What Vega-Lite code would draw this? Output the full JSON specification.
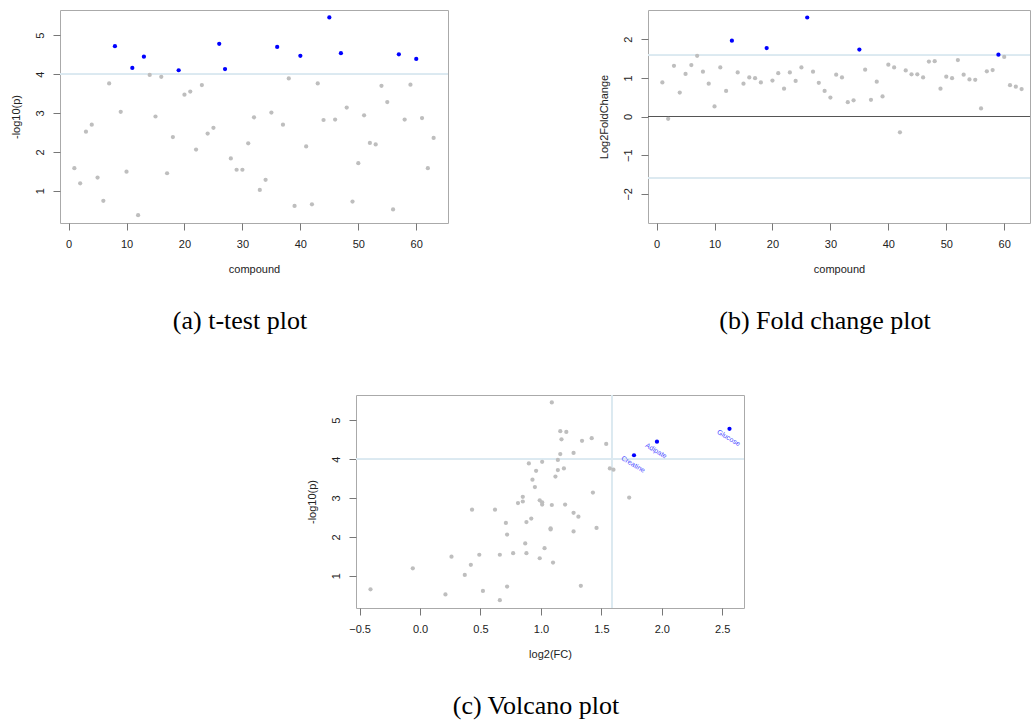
{
  "$schema": "https://vega.github.io/schema/vega-lite/v6.json",
  "padding": {"left": 9, "top": 9, "right": 0, "bottom": 0},
  "background": "white",
  "data": {"values": [
    {"compound":1,"logp":1.58,"fc":0.88},{"compound":2,"logp":1.19,"fc":-0.06},{"compound":3,"logp":2.52,"fc":1.31},
    {"compound":4,"logp":2.70,"fc":0.62},{"compound":5,"logp":1.34,"fc":1.10},{"compound":6,"logp":0.74,"fc":1.33},
    {"compound":7,"logp":3.76,"fc":1.57},{"compound":8,"logp":4.72,"fc":1.16},{"compound":9,"logp":3.03,"fc":0.85},
    {"compound":10,"logp":1.49,"fc":0.26},{"compound":11,"logp":4.16,"fc":1.27},{"compound":12,"logp":0.37,"fc":0.66},
    {"compound":13,"logp":4.45,"fc":1.96,"name":"Adipate"},{"compound":14,"logp":3.98,"fc":1.14},{"compound":15,"logp":2.91,"fc":0.85},
    {"compound":16,"logp":3.93,"fc":1.01},{"compound":17,"logp":1.45,"fc":0.99},{"compound":18,"logp":2.38,"fc":0.88},
    {"compound":19,"logp":4.10,"fc":1.77,"name":"Creatine"},{"compound":20,"logp":3.47,"fc":0.93},{"compound":21,"logp":3.55,"fc":1.12},
    {"compound":22,"logp":2.06,"fc":0.72},{"compound":23,"logp":3.72,"fc":1.14},{"compound":24,"logp":2.47,"fc":0.92},
    {"compound":25,"logp":2.62,"fc":1.27},{"compound":26,"logp":4.78,"fc":2.56,"name":"Glucose"},{"compound":27,"logp":4.13,"fc":1.16},
    {"compound":28,"logp":1.83,"fc":0.87},{"compound":29,"logp":1.54,"fc":0.66},{"compound":30,"logp":1.54,"fc":0.49},
    {"compound":31,"logp":2.22,"fc":1.08},{"compound":32,"logp":2.89,"fc":1.01},{"compound":33,"logp":1.02,"fc":0.37},
    {"compound":34,"logp":1.28,"fc":0.42},{"compound":35,"logp":3.01,"fc":1.73},{"compound":36,"logp":4.70,"fc":1.21},
    {"compound":37,"logp":2.70,"fc":0.43},{"compound":38,"logp":3.89,"fc":0.90},{"compound":39,"logp":0.61,"fc":0.52},
    {"compound":40,"logp":4.47,"fc":1.34},{"compound":41,"logp":2.14,"fc":1.27},{"compound":42,"logp":0.65,"fc":-0.41},
    {"compound":43,"logp":3.76,"fc":1.19},{"compound":44,"logp":2.82,"fc":1.09},{"compound":45,"logp":5.46,"fc":1.09},
    {"compound":46,"logp":2.83,"fc":1.01},{"compound":47,"logp":4.54,"fc":1.42},{"compound":48,"logp":3.14,"fc":1.43},
    {"compound":49,"logp":0.72,"fc":0.72},{"compound":50,"logp":1.71,"fc":1.03},{"compound":51,"logp":2.94,"fc":0.99},
    {"compound":52,"logp":2.23,"fc":1.46},{"compound":53,"logp":2.19,"fc":1.08},{"compound":54,"logp":3.70,"fc":0.96},
    {"compound":55,"logp":3.28,"fc":0.95},{"compound":56,"logp":0.52,"fc":0.21},{"compound":57,"logp":4.51,"fc":1.17},
    {"compound":58,"logp":2.83,"fc":1.20},{"compound":59,"logp":3.73,"fc":1.60},{"compound":60,"logp":4.39,"fc":1.54},
    {"compound":61,"logp":2.87,"fc":0.81},{"compound":62,"logp":1.58,"fc":0.77},{"compound":63,"logp":2.36,"fc":0.71}
  ]},
  "config": {
    "view": {"stroke": "#aaaaaa", "strokeWidth": 1},
    "axis": {"grid": false, "domain": false, "tickColor": "#777777", "tickSize": 7, "labelFont": "Liberation Sans", "labelFontSize": 11, "labelColor": "#222222", "titleFont": "Liberation Sans", "titleFontSize": 11, "titleFontWeight": "normal", "titleColor": "#222222", "labelOverlap": false, "labelFlush": false},
    "axisX": {"labelPadding": 8, "titlePadding": 14},
    "axisY": {"labelAngle": -90, "labelPadding": 8, "titlePadding": 13},
    "title": {"font": "Liberation Serif", "fontSize": 26, "fontWeight": "normal", "color": "#000000", "orient": "bottom", "frame": "group", "anchor": "middle", "dx": -14, "offset": 34}
  },
  "spacing": 59,
  "center": true,
  "vconcat": [
    {
      "spacing": 148,
      "hconcat": [
        {
          "width": 388, "height": 213,
          "title": {"text": "(a) t-test plot"},
          "layer": [
            {"mark": {"type": "rule", "color": "#dce9f0", "strokeWidth": 1},
             "encoding": {"y": {"datum": 4, "type": "quantitative", "title": "-log10(p)"}}},
            {"mark": {"type": "circle", "size": 18, "opacity": 1},
             "encoding": {
               "x": {"field": "compound", "type": "quantitative", "title": "compound", "scale": {"domain": [-1.48, 65.48], "nice": false, "zero": false}, "axis": {"values": [0,10,20,30,40,50,60]}},
               "y": {"field": "logp", "type": "quantitative", "title": "-log10(p)", "scale": {"domain": [0.17, 5.65], "nice": false, "zero": false}, "axis": {"values": [1,2,3,4,5]}},
               "color": {"condition": {"test": "datum.logp > 4", "value": "#0000ff"}, "value": "#bebebe"}
             }}
          ]
        },
        {
          "width": 382, "height": 213,
          "title": {"text": "(b) Fold change plot"},
          "layer": [
            {"mark": {"type": "rule", "color": "#dce9f0", "strokeWidth": 1},
             "encoding": {"y": {"datum": 1.585, "type": "quantitative", "title": "Log2FoldChange"}}},
            {"mark": {"type": "rule", "color": "#dce9f0", "strokeWidth": 1},
             "encoding": {"y": {"datum": -1.585, "type": "quantitative", "title": "Log2FoldChange"}}},
            {"mark": {"type": "rule", "color": "#555555", "strokeWidth": 1},
             "encoding": {"y": {"datum": 0, "type": "quantitative", "title": "Log2FoldChange"}}},
            {"mark": {"type": "circle", "size": 18, "opacity": 1},
             "encoding": {
               "x": {"field": "compound", "type": "quantitative", "title": "compound", "scale": {"domain": [-1.48, 64.45], "nice": false, "zero": false}, "axis": {"values": [0,10,20,30,40,50,60]}},
               "y": {"field": "fc", "type": "quantitative", "title": "Log2FoldChange", "scale": {"domain": [-2.754, 2.754], "nice": false, "zero": false}, "axis": {"values": [-2,-1,0,1,2]}},
               "color": {"condition": {"test": "abs(datum.fc) > 1.585", "value": "#0000ff"}, "value": "#bebebe"}
             }}
          ]
        }
      ]
    },
    {
      "spacing": -42,
      "hconcat": [
        {
          "width": 1, "height": 213,
          "view": {"stroke": null},
          "transform": [{"filter": "false"}],
          "mark": {"type": "point", "opacity": 0},
          "encoding": {}
        },
        {
          "width": 388, "height": 213,
          "title": {"text": "(c) Volcano plot"},
          "layer": [
            {"mark": {"type": "rule", "color": "#dce9f0", "strokeWidth": 1},
             "encoding": {"y": {"datum": 4, "type": "quantitative", "title": "-log10(p)"}}},
            {"mark": {"type": "rule", "color": "#dce9f0", "strokeWidth": 1},
             "encoding": {"x": {"datum": 1.585, "type": "quantitative", "title": "log2(FC)"}}},
            {"mark": {"type": "circle", "size": 18, "opacity": 1},
             "encoding": {
               "x": {"field": "fc", "type": "quantitative", "title": "log2(FC)", "scale": {"domain": [-0.53, 2.68], "nice": false, "zero": false}, "axis": {"values": [-0.5,0,0.5,1,1.5,2,2.5], "format": ".1f"}},
               "y": {"field": "logp", "type": "quantitative", "title": "-log10(p)", "scale": {"domain": [0.17, 5.65], "nice": false, "zero": false}, "axis": {"values": [1,2,3,4,5]}},
               "color": {"condition": {"test": "datum.logp > 4 && abs(datum.fc) > 1.585", "value": "#0000ff"}, "value": "#bebebe"}
             }},
            {"transform": [{"filter": "isValid(datum.name)"}],
             "mark": {"type": "text", "angle": 31, "align": "center", "baseline": "middle", "dx": 4, "dy": 8.5, "fontSize": 7, "font": "Liberation Sans", "color": "#4a4aff"},
             "encoding": {
               "x": {"field": "fc", "type": "quantitative"},
               "y": {"field": "logp", "type": "quantitative"},
               "text": {"field": "name"}
             }}
          ]
        }
      ]
    }
  ]
}
